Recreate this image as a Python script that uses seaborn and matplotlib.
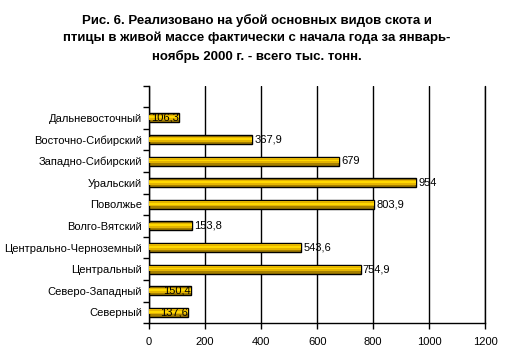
import numpy as np
import matplotlib
matplotlib.use("Agg")
import matplotlib.pyplot as plt
import pandas as pd
import seaborn as sns

regions = ["Дальневосточный", "Восточно-Сибирский", "Западно-Сибирский", "Уральский",
           "Поволжье", "Волго-Вятский", "Центрально-Черноземный", "Центральный",
           "Северо-Западный", "Северный"]
values = [106.3, 367.9, 679, 954, 803.9, 153.8, 543.6, 754.9, 150.4, 137.6]
labels = ["106,3", "367,9", "679", "954", "803,9", "153,8", "543,6", "754,9", "150,4", "137,6"]
xticks = [0, 200, 400, 600, 800, 1000, 1200]

title = ("Рис. 6. Реализовано на убой основных видов скота и\n"
         "птицы в живой массе фактически с начала года за январь-\n"
         "ноябрь 2000 г. - всего тыс. тонн.")

sns.set_style("white")
plt.rcParams['font.family'] = ['Liberation Sans', 'DejaVu Sans']
plt.rcParams['text.color'] = 'black'
plt.rcParams['xtick.color'] = 'black'
plt.rcParams['ytick.color'] = 'black'
plt.rcParams['axes.labelcolor'] = 'black'

df = pd.DataFrame({"region": regions, "value": values})

fig = plt.figure(figsize=(5.14, 3.61), dpi=100)
ax = fig.add_axes([0.29, 0.105, 0.654, 0.658])

# base bar (dark gold with black edge)
sns.barplot(data=df, x="value", y="region", orient="h", color="#A68000",
            saturation=1, width=0.42, edgecolor="black", linewidth=1, ax=ax, zorder=3)
# inner highlight stripes to mimic the shaded Excel bars
pos = np.arange(len(regions))
ax.barh(pos - 0.02, values, height=0.24, color="#E4B400", linewidth=0, zorder=4)
ax.barh(pos - 0.03, values, height=0.08, color="#FFD800", linewidth=0, zorder=5)

for i, (v, lab) in enumerate(zip(values, labels)):
    if v < 151:
        ax.text(v, i, lab, ha="right", va="center", fontsize=8, zorder=6)
    else:
        ax.text(v + 8, i, lab, ha="left", va="center", fontsize=8, zorder=6)

ax.set_xlim(0, 1200)
ax.set_ylim(9.5, -1.5)
ax.set_xticks(xticks)
ax.set_xticklabels([str(t) for t in xticks], fontsize=8)
ax.set_yticks(pos)
ax.set_yticklabels(regions, fontsize=8)
ax.set_yticks(np.arange(-1.5, 10, 1), minor=True)
ax.tick_params(axis="y", which="major", length=0, pad=5)
ax.tick_params(axis="y", which="minor", length=4, width=1, direction="out", left=True)
ax.tick_params(axis="x", length=4, width=1, direction="out", bottom=True, pad=6)
ax.set_xlabel("")
ax.set_ylabel("")

ax.xaxis.grid(True, color="black", linewidth=1, zorder=0)
ax.axvline(1200, color="black", linewidth=1, clip_on=False, zorder=1)
ax.set_axisbelow(True)
for s in ["top", "right"]:
    ax.spines[s].set_visible(False)
for s in ["left", "bottom"]:
    ax.spines[s].set_color("black")
    ax.spines[s].set_linewidth(1)

fig.text(0.5, 0.962, title, ha="center", va="top", fontsize=9.5,
         fontweight="bold", linespacing=1.55)

fig.savefig("out.png", dpi=100)
